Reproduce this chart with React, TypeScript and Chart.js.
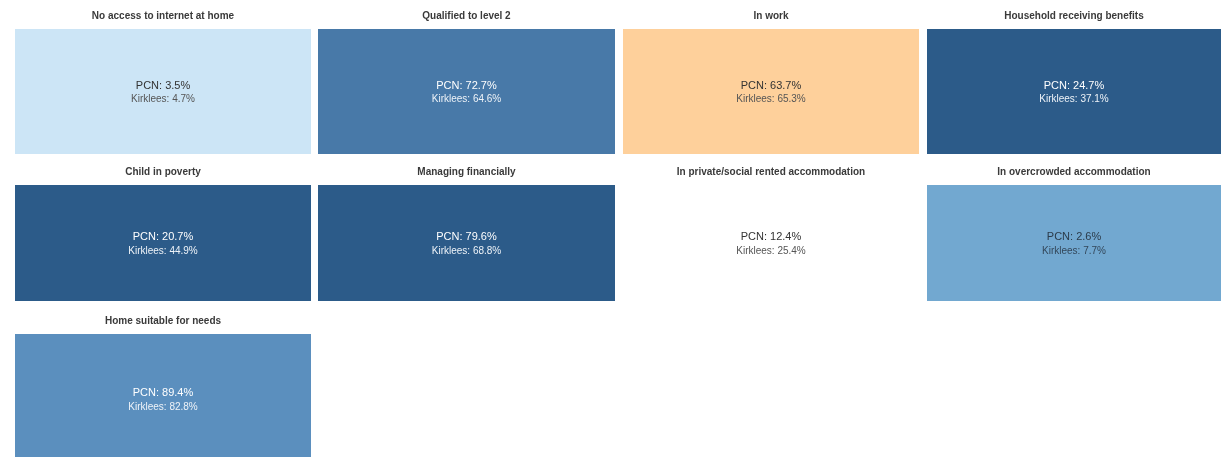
import React, { useEffect, useRef } from "react";
import { Chart, registerables } from "chart.js";

Chart.register(...registerables);

// ---- Data ----
const titles = [
  "No access to internet at home",
  "Qualified to level 2",
  "In work",
  "Household receiving benefits",
  "Child in poverty",
  "Managing financially",
  "In private/social rented accommodation",
  "In overcrowded accommodation",
  "Home suitable for needs",
];
const pcnValues = [3.5, 72.7, 63.7, 24.7, 20.7, 79.6, 12.4, 2.6, 89.4];
const kirkleesValues = [4.7, 64.6, 65.3, 37.1, 44.9, 68.8, 25.4, 7.7, 82.8];

// ---- Styles ----
const tileColors = [
  "#cce5f6",
  "#4879a8",
  "#fed09b",
  "#2c5b89",
  "#2c5b89",
  "#2c5b89",
  "#ffffff",
  "#72a8d0",
  "#5b8fbe",
];
const pcnTextColors = ["#333333", "#ffffff", "#333333", "#ffffff", "#ffffff", "#ffffff", "#333333", "#2b3b4a", "#ffffff"];
const kirkTextColors = ["#555555", "#eef3f8", "#555555", "#eef3f8", "#eef3f8", "#eef3f8", "#555555", "#33475a", "#eef3f8"];

const COLS = 4;
const colLefts = [15, 318, 623, 927];
const colWidths = [296, 297, 296, 294];
const HEADER_H = 29;
const rowTops = [0, 156, 305];
const rowBarHeights = [125, 116, 130];
const FONT = "Arial, 'Liberation Sans', sans-serif";

const tileLabelPlugin = {
  id: "tileLabels",
  afterDatasetsDraw(chart: any, _args: any, opts: any) {
    const meta = chart.getDatasetMeta(0);
    const el = meta.data[0];
    if (!el) return;
    const { x, y, base } = el.getProps(["x", "y", "base"], true);
    const cy = (y + base) / 2;
    const ctx = chart.ctx;
    ctx.save();
    ctx.textAlign = "center";
    ctx.textBaseline = "middle";
    ctx.fillStyle = opts.pcnColor;
    ctx.font = `11px ${FONT}`;
    ctx.fillText(`PCN: ${opts.pcn.toFixed(1)}%`, x, cy - 6);
    ctx.fillStyle = opts.kirkColor;
    ctx.font = `10px ${FONT}`;
    ctx.fillText(`Kirklees: ${opts.kirk.toFixed(1)}%`, x, cy + 8);
    ctx.restore();
  },
};

function Tile({ index }: { index: number }) {
  const ref = useRef<HTMLCanvasElement>(null);
  useEffect(() => {
    if (!ref.current) return;
    const chart = new Chart(ref.current, {
      type: "bar",
      data: {
        labels: [titles[index]],
        datasets: [
          {
            data: [1],
            backgroundColor: tileColors[index],
            borderWidth: 0,
            barPercentage: 1,
            categoryPercentage: 1,
          },
        ],
      },
      options: {
        animation: false,
        responsive: true,
        maintainAspectRatio: false,
        layout: { padding: 0 },
        scales: {
          x: { display: false },
          y: { display: false, min: 0, max: 1 },
        },
        plugins: {
          legend: { display: false },
          tooltip: { enabled: false },
          title: {
            display: true,
            text: titles[index],
            color: "#3a3a3a",
            font: { size: 10, weight: "bold", family: FONT },
            padding: { top: 10, bottom: 7 },
          },
          tileLabels: {
            pcn: pcnValues[index],
            kirk: kirkleesValues[index],
            pcnColor: pcnTextColors[index],
            kirkColor: kirkTextColors[index],
          },
        } as any,
      },
      plugins: [tileLabelPlugin],
    });
    return () => chart.destroy();
  }, [index]);

  const col = index % COLS;
  const row = Math.floor(index / COLS);
  return (
    <div
      style={{
        position: "absolute",
        left: colLefts[col],
        top: rowTops[row],
        width: colWidths[col],
        height: HEADER_H + rowBarHeights[row],
      }}
    >
      <canvas ref={ref} />
    </div>
  );
}

export default function App() {
  return (
    <div
      style={{
        position: "fixed",
        left: 0,
        top: 0,
        width: 1221,
        height: 457,
        overflow: "hidden",
        background: "#ffffff",
      }}
    >
      {titles.map((_, i) => (
        <Tile key={i} index={i} />
      ))}
    </div>
  );
}
